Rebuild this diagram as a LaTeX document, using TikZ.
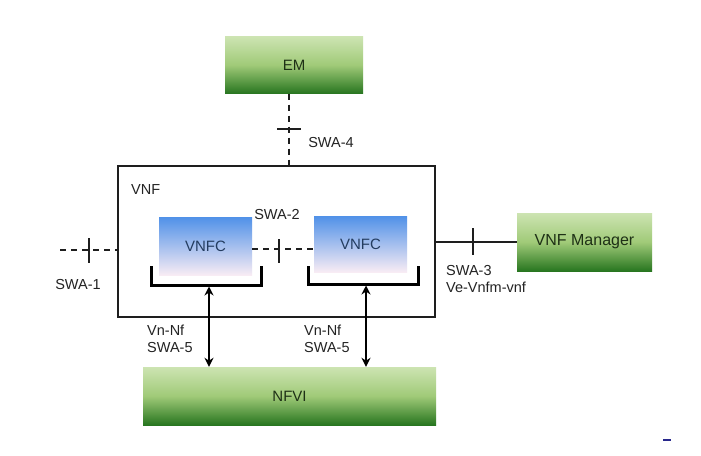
\documentclass[tikz,border=0pt]{standalone}
\usepackage{fontspec}
\setmainfont{Liberation Sans}
\usetikzlibrary{arrows.meta}
\definecolor{gtop}{RGB}{205,228,178}
\definecolor{gmid}{RGB}{160,202,120}
\definecolor{gbot}{RGB}{40,118,32}
\definecolor{btop}{RGB}{80,145,232}
\definecolor{bbot}{RGB}{248,236,244}
\definecolor{gtext}{RGB}{30,48,22}
\definecolor{btext}{RGB}{35,60,95}
\definecolor{ltext}{RGB}{35,35,35}
\definecolor{lnc}{RGB}{30,30,30}
\begin{document}
\begin{tikzpicture}[x=1pt,y=-1pt,
  greenbox/.style={rectangle, inner sep=0pt, top color=gtop, bottom color=gbot, middle color=gmid, text=gtext, font=\fontsize{15}{17}\selectfont},
  bluebox/.style={rectangle, inner sep=0pt, top color=btop, bottom color=bbot, text=btext, font=\fontsize{15}{17}\selectfont},
  lbl/.style={inner sep=0pt, text=ltext, font=\fontsize{14.5}{17}\selectfont, align=left},
  dashline/.style={draw=lnc, line width=2.6pt, dash pattern=on 6pt off 5pt},
  solidline/.style={draw=lnc, line width=2.2pt},
  tickline/.style={draw=lnc, line width=2.4pt},
  brack/.style={draw=black, line width=3pt},
  arr/.style={draw=black, line width=2.8pt, {Stealth[length=9pt,width=9pt]}-{Stealth[length=9pt,width=9pt]}}
]
\useasboundingbox[fill=white] (0,0) rectangle (701,455);

% boxes
\node[greenbox, minimum width=138pt, minimum height=57pt] (em) at (294,65) {EM};
\node[rectangle, draw=lnc, line width=1.8pt, minimum width=317pt, minimum height=151pt] (vnf) at (276.5,241.5) {};
\node[bluebox, minimum width=93pt, minimum height=58pt] (vnfc1) at (205.5,246) {VNFC};
\node[bluebox, minimum width=93pt, minimum height=56pt] (vnfc2) at (360.5,244) {VNFC};
\node[greenbox, minimum width=135pt, minimum height=58pt, font=\fontsize{16}{18}\selectfont] (vnfm) at (584.5,242) {VNF Manager};
\node[greenbox, minimum width=293pt, minimum height=58pt] (nfvi) at (289.5,396) {NFVI};

% labels
\node[lbl, anchor=west] (lvnf) at (131,190) {VNF};
\node[lbl] (l4) at (331,143) {SWA-4};
\node[lbl] (l1) at (78,285) {SWA-1};
\node[lbl] (l2) at (277,215) {SWA-2};
\node[lbl, anchor=north west] (l3) at (446,265) {SWA-3\\Ve-Vnfm-vnf};
\node[lbl, anchor=north west] (l5a) at (147,325) {Vn-Nf\\SWA-5};
\node[lbl, anchor=north west] (l5b) at (304,325) {Vn-Nf\\SWA-5};

% SWA-4
\coordinate (x4) at (289,0);
\draw[dashline] (x4 |- em.south) -- (x4 |- vnf.north);
\coordinate (t4a) at (277,129);
\coordinate (t4b) at (301,129);
\draw[tickline] (t4a) -- (t4b);

% SWA-1
\coordinate (s1) at (60,250);
\draw[dashline] (s1) -- (s1 -| vnf.west);
\coordinate (t1a) at (89,238);
\coordinate (t1b) at (89,263);
\draw[tickline] (t1a) -- (t1b);

% SWA-2
\coordinate (y2) at (0,249);
\draw[dashline] (y2 -| vnfc1.east) -- (y2 -| vnfc2.west);
\coordinate (t2a) at (279,239);
\coordinate (t2b) at (279,263);
\draw[tickline] (t2a) -- (t2b);

% SWA-3
\draw[solidline] (vnf.east |- vnfm.west) -- (vnfm.west);
\coordinate (t3a) at (473,228);
\coordinate (t3b) at (473,255);
\draw[tickline] (t3a) -- (t3b);

% brackets
\coordinate (b1a) at (151,266);
\coordinate (b1b) at (261,285);
\draw[brack] (b1a) -- (b1a |- b1b) -- (b1b) -- (b1b |- b1a);
\coordinate (b2a) at (308,266);
\coordinate (b2b) at (418,284);
\draw[brack] (b2a) -- (b2a |- b2b) -- (b2b) -- (b2b |- b2a);

% arrows
\coordinate (a1) at (209,286.5);
\draw[arr] (a1) -- (a1 |- nfvi.north);
\coordinate (a2) at (366,285.5);
\draw[arr] (a2) -- (a2 |- nfvi.north);

% small mark
\coordinate (m1) at (663,440);
\coordinate (m2) at (671,440);
\draw[draw={rgb,255:red,40;green,40;blue,140}, line width=1.5pt] (m1) -- (m2);
\end{tikzpicture}
\end{document}
